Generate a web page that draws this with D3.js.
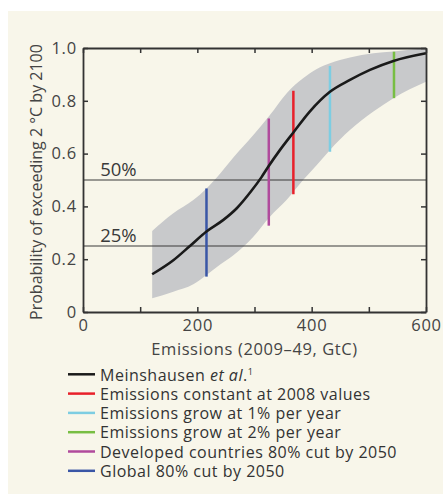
<!DOCTYPE html>
<html>
<head>
<meta charset="utf-8">
<script src="https://cdn.jsdelivr.net/npm/d3@7"></script>
<style>
  body { margin: 0; background: #fff; }
  svg { display: block; font-family: "Open Sans", sans-serif; }
</style>
</head>
<body>
<svg id="chart"></svg>
<script>
// central curve (Meinshausen et al.)
let curveX = [121, 158, 187, 216, 245, 269, 295, 312, 324, 345, 368, 397, 432, 467, 502, 543, 600];
let curveP = [0.143, 0.196, 0.25, 0.305, 0.348, 0.393, 0.46, 0.51, 0.55, 0.615, 0.68, 0.76, 0.834, 0.879, 0.917, 0.951, 0.98];

// grey uncertainty band
let bandX     = [121, 158, 193, 216, 240, 263, 298, 327, 356, 385, 409, 432, 467, 508, 543, 600];
let bandUpper = [0.307, 0.374, 0.424, 0.468, 0.525, 0.585, 0.67, 0.746, 0.828, 0.885, 0.92, 0.942, 0.964, 0.98, 0.987, 0.999];
let bandLower = [0.052, 0.077, 0.105, 0.14, 0.18, 0.215, 0.285, 0.361, 0.424, 0.5, 0.557, 0.614, 0.689, 0.759, 0.81, 0.872];

// scenario ranges
let scenarios = ["Emissions constant at 2008 values", "Emissions grow at 1% per year", "Emissions grow at 2% per year",
                 "Developed countries 80% cut by 2050", "Global 80% cut by 2050"];
let scenarioX    = [368, 432, 544, 325, 216];
let scenarioLow  = [0.446, 0.607, 0.81, 0.327, 0.134];
let scenarioHigh = [0.838, 0.932, 0.986, 0.733, 0.468];
let colors = ["#e8202a", "#7dcde2", "#78be43", "#b04a9c", "#3a56a6"];

let refLines = [0.5, 0.25];
let refLabels = ["50%", "25%"];

let xTicks = [0, 100, 200, 300, 400, 500, 600];
let xLabels = [0, 200, 400, 600];
let yTicks = [0, 0.2, 0.4, 0.6, 0.8, 1.0];

let width = 443, height = 494;
let svg = d3.select("#chart").attr("width", width).attr("height", height);

svg.append("rect")
    .attr("x", 8).attr("y", 11)
    .attr("width", width - 8).attr("height", height - 11)
    .attr("fill", "#f8f6ea");

let pLeft = 83, pRight = 426, pTop = 48, pBottom = 312;

let scaleX = d3.scaleLinear().domain([0, 600]).range([pLeft, pRight]);
let scaleY = d3.scaleLinear().domain([0, 1]).range([pBottom, pTop]);

// band
let area = d3.area()
    .x((d, i) => scaleX(bandX[i]))
    .y0((d, i) => scaleY(bandLower[i]))
    .y1((d, i) => scaleY(bandUpper[i]))
    .curve(d3.curveMonotoneX);
svg.append("path")
    .datum(bandX)
    .attr("d", area)
    .attr("fill", "#c8c9cb");

// reference lines
refLines.forEach((v, i) => {
    svg.append("line")
        .attr("x1", pLeft).attr("x2", pRight)
        .attr("y1", scaleY(v)).attr("y2", scaleY(v))
        .attr("stroke", "#3a3a3a").attr("stroke-width", 1.2);
    svg.append("text")
        .attr("x", scaleX(30)).attr("y", scaleY(v) - 4.5)
        .attr("font-size", 18.5).attr("fill", "#3a3a3a")
        .text(refLabels[i]);
});

// scenario bars
scenarios.forEach((s, i) => {
    svg.append("line")
        .attr("x1", scaleX(scenarioX[i])).attr("x2", scaleX(scenarioX[i]))
        .attr("y1", scaleY(scenarioLow[i])).attr("y2", scaleY(scenarioHigh[i]))
        .attr("stroke", colors[i]).attr("stroke-width", 2.5);
});

// central curve
let line = d3.line()
    .x((d, i) => scaleX(curveX[i]))
    .y((d, i) => scaleY(curveP[i]))
    .curve(d3.curveMonotoneX);
svg.append("path")
    .datum(curveX)
    .attr("d", line)
    .attr("fill", "none")
    .attr("stroke", "#1a1a1a")
    .attr("stroke-width", 2.6);

// axes
let axisColor = "#333";
let gB = svg.append("g").attr("transform", `translate(0,${pBottom})`)
    .call(d3.axisBottom(scaleX).tickValues(xTicks).tickSizeInner(-5).tickSizeOuter(0)
        .tickFormat(d => xLabels.includes(d) ? d : ""));
let gT = svg.append("g").attr("transform", `translate(0,${pTop})`)
    .call(d3.axisTop(scaleX).tickValues(xTicks).tickSizeInner(-5).tickSizeOuter(0).tickFormat(""));
let gL = svg.append("g").attr("transform", `translate(${pLeft},0)`)
    .call(d3.axisLeft(scaleY).tickValues(yTicks).tickSizeInner(-5).tickSizeOuter(0)
        .tickFormat(d => d === 0 ? "0" : d3.format(".1f")(d)));
let gR = svg.append("g").attr("transform", `translate(${pRight},0)`)
    .call(d3.axisRight(scaleY).tickValues(yTicks).tickSizeInner(-5).tickSizeOuter(0).tickFormat(""));

[gB, gT, gL, gR].forEach(g => {
    g.select(".domain").attr("stroke", axisColor).attr("stroke-width", 1.8);
    g.selectAll(".tick line").attr("stroke", axisColor).attr("stroke-width", 1.5);
    g.selectAll(".tick text").attr("fill", "#444").attr("font-size", 16.5)
        .attr("letter-spacing", 0.8)
        .attr("font-family", "Open Sans, sans-serif");
});
gB.selectAll(".tick text").attr("dy", "0.97em");
gL.selectAll(".tick text").attr("x", -6);

// axis titles
svg.append("text")
    .attr("x", (pLeft + pRight) / 2).attr("y", 355)
    .attr("text-anchor", "middle").attr("font-size", 16.5).attr("fill", "#444")
    .attr("letter-spacing", 0.6)
    .text("Emissions (2009\u201349, GtC)");
svg.append("text")
    .attr("transform", `translate(42,182) rotate(-90)`)
    .attr("text-anchor", "middle").attr("font-size", 16).attr("fill", "#444")
    .text("Probability of exceeding 2 \u00b0C by 2100");

// legend
let legendNames = ["Meinshausen", ...scenarios];
let legendColors = ["#1a1a1a", ...colors];
legendNames.forEach((name, i) => {
    let y = 374.3 + i * 19.3;
    svg.append("line")
        .attr("x1", 68).attr("x2", 95).attr("y1", y).attr("y2", y)
        .attr("stroke", legendColors[i]).attr("stroke-width", 2.5);
    let t = svg.append("text")
        .attr("x", 100).attr("y", y + 6.2)
        .attr("font-size", 16).attr("fill", "#333")
        .attr("letter-spacing", 0.5);
    if (i === 0) {
        t.append("tspan").text("Meinshausen ");
        t.append("tspan").attr("font-style", "italic").text("et al");
        t.append("tspan").text(".");
        t.append("tspan").attr("font-size", 9).attr("dy", -6).text("1");
    } else {
        t.text(name);
    }
});
</script>
</body>
</html>
